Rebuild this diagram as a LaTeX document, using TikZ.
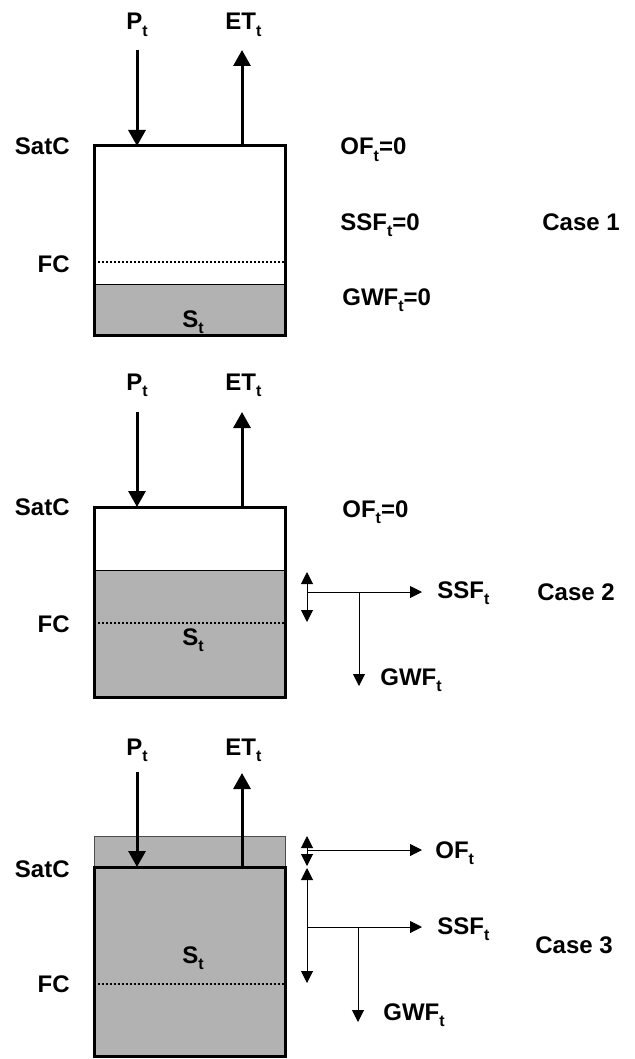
\documentclass[tikz,border=0pt]{standalone}
\usepackage{fontspec}
\setmainfont{Liberation Sans}
\usetikzlibrary{arrows.meta}
\definecolor{storegray}{RGB}{178,178,178}
\newcommand{\tsub}{\raisebox{-3.3pt}{\fontsize{8}{8}\selectfont t}}

\begin{document}
\begin{tikzpicture}
    [x=0.5pt, y=-0.5pt,
    every node/.style={inner sep=0pt, font=\fontsize{12}{14}\selectfont\bfseries},
    lbl/.style={anchor=base west},
    lvl/.style={anchor=base east},
    tank/.style={draw, line width=1.5pt},
    water/.style={fill=storegray},
    fcline/.style={line width=1.4pt, dash pattern=on 1.1pt off 0.9pt},
    flux/.style={line width=1.5pt, -{Triangle[length=8pt, width=8.5pt]}},
    flow/.style={line width=0.5pt, -{Triangle[length=6pt, width=6pt]}},
    levelspan/.style={line width=0.5pt, {Triangle[length=6pt, width=6pt]}-{Triangle[length=6pt, width=6pt]}}]
        \useasboundingbox (0,0) rectangle (635,1059);
        % Case 1
        \fill[water] (94,284) rectangle (285,335);
        \draw[line width=0.5pt] (94,284) -- (285,284);
        \draw[fcline] (94,262) -- (285,262);
        \draw[tank] (94,146) rectangle (285,335);

        \node[lvl] (satc1) at (70,155) {SatC};
        \node[lvl] (fc1) at (70,272) {FC};
        \node[lbl] (s1) at (182,327) {S\tsub};
        \node[lbl] (p1) at (126,30) {P\tsub};
        \node[lbl] (et1) at (225,30) {ET\tsub};
        \coordinate (p1a) at (137,50);
        \coordinate (p1b) at (137,146);
        \coordinate (et1a) at (242,146);
        \coordinate (et1b) at (242,50);
        \draw[flux] (p1a) -- (p1b);
        \draw[flux] (et1a) -- (et1b);

        \node[lbl] (of1) at (340,155) {OF\tsub=0};
        \node[lbl] (ssf1) at (340,230) {SSF\tsub=0};
        \node[lbl] (gwf1) at (342,305) {GWF\tsub=0};
        \node[lbl] (case1) at (542,230) {Case 1};
        % Case 2
        \fill[water] (94,570) rectangle (285,697);
        \draw[line width=0.5pt] (94,570) -- (285,570);
        \draw[fcline] (94,623) -- (285,623);
        \draw[tank] (94,507) rectangle (285,697);

        \node[lvl] (satc2) at (70,515) {SatC};
        \node[lvl] (fc2) at (70,632) {FC};
        \node[lbl] (s2) at (182,645) {S\tsub};
        \node[lbl] (p2) at (126,390) {P\tsub};
        \node[lbl] (et2) at (225,390) {ET\tsub};
        \coordinate (p2a) at (137,412);
        \coordinate (p2b) at (137,507);
        \coordinate (et2a) at (242,507);
        \coordinate (et2b) at (242,412);
        \draw[flux] (p2a) -- (p2b);
        \draw[flux] (et2a) -- (et2b);

        \node[lbl] (of2) at (342,517) {OF\tsub=0};
        \coordinate (r2a) at (307,572);
        \coordinate (r2b) at (307,622);
        \coordinate (q2a) at (307,592);
        \coordinate (q2b) at (422,592);
        \coordinate (g2a) at (359,592);
        \coordinate (g2b) at (359,686);
        \draw[levelspan] (r2a) -- (r2b);
        \draw[flow] (q2a) -- (q2b);
        \draw[flow] (g2a) -- (g2b);
        \node[lbl] (ssf2) at (437,598) {SSF\tsub};
        \node[lbl] (gwf2) at (380,685) {GWF\tsub};
        \node[lbl] (case2) at (537,600) {Case 2};
        % Case 3
        \draw[line width=0.5pt, draw=black!70, fill=storegray] (94,836) rectangle (285,867);
        \fill[water] (94,867) rectangle (285,1056);
        \draw[fcline] (94,984) -- (285,984);
        \draw[tank] (94,867) rectangle (285,1056);

        \node[lvl] (satc3) at (70,877) {SatC};
        \node[lvl] (fc3) at (70,992) {FC};
        \node[lbl] (s3) at (182,963) {S\tsub};
        \node[lbl] (p3) at (126,755) {P\tsub};
        \node[lbl] (et3) at (225,755) {ET\tsub};
        \coordinate (p3a) at (137,772);
        \coordinate (p3b) at (137,867);
        \coordinate (et3a) at (242,867);
        \coordinate (et3b) at (242,773);
        \draw[flux] (p3a) -- (p3b);
        \draw[flux] (et3a) -- (et3b);

        \coordinate (o3a) at (307,836);
        \coordinate (o3b) at (307,866);
        \coordinate (f3a) at (307,850);
        \coordinate (f3b) at (422,850);
        \draw[levelspan] (o3a) -- (o3b);
        \draw[flow] (f3a) -- (f3b);
        \node[lbl] (of3) at (435,858) {OF\tsub};
        \coordinate (r3a) at (307,868);
        \coordinate (r3b) at (307,983);
        \coordinate (q3a) at (307,927);
        \coordinate (q3b) at (422,927);
        \coordinate (g3a) at (358,927);
        \coordinate (g3b) at (358,1022);
        \draw[levelspan] (r3a) -- (r3b);
        \draw[flow] (q3a) -- (q3b);
        \draw[flow] (g3a) -- (g3b);
        \node[lbl] (ssf3) at (437,934) {SSF\tsub};
        \node[lbl] (gwf3) at (383,1020) {GWF\tsub};
        \node[lbl] (case3) at (535,953) {Case 3};
    \end{tikzpicture}
\end{document}
